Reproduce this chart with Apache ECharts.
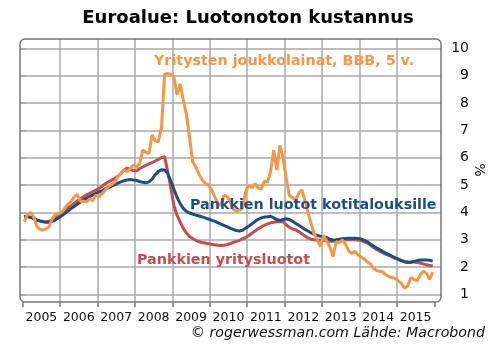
<!DOCTYPE html>
<html><head><meta charset="utf-8">
<script src="https://cdn.jsdelivr.net/npm/echarts@6/dist/echarts.min.js"></script>
<style>html,body{margin:0;padding:0;background:#fff}#c{width:496px;height:361px}</style>
</head><body><div id="c"></div>
<script>
// Year tick labels (categories of the label axis)
const yearLabels = ['2005','2006','2007','2008','2009','2010','2011','2012','2013','2014','2015'];

// Monthly categories Jan 2005 .. Dec 2015
const months = [];
for (const y of yearLabels) { for (let m = 1; m <= 12; m++) months.push(y + '-' + (m < 10 ? '0' + m : m)); }

// Pankkien luotot kotitalouksille (%)
const households = [
 3.85,3.85,3.82,3.78,3.73,3.69,3.66,3.64,3.64,3.67,3.73,3.80,
 3.88,3.96,4.05,4.14,4.22,4.30,4.38,4.45,4.52,4.58,4.64,4.70,
 4.75,4.80,4.86,4.91,4.96,5.01,5.07,5.12,5.16,5.19,5.20,5.19,
 5.17,5.13,5.10,5.08,5.12,5.22,5.38,5.50,5.56,5.55,5.42,5.15,
 4.85,4.55,4.32,4.15,4.04,3.98,3.94,3.90,3.87,3.84,3.80,3.76,
 3.72,3.68,3.63,3.58,3.53,3.48,3.43,3.38,3.34,3.32,3.35,3.42,
 3.50,3.58,3.67,3.75,3.80,3.83,3.84,3.86,3.80,3.74,3.71,3.74,
 3.77,3.74,3.68,3.60,3.53,3.46,3.38,3.32,3.25,3.20,3.16,3.13,
 3.12,3.08,3.02,2.99,3.00,3.02,3.04,3.05,3.06,3.06,3.06,3.05,
 3.03,2.99,2.93,2.85,2.77,2.70,2.64,2.57,2.51,2.46,2.40,2.34,
 2.29,2.24,2.19,2.17,2.18,2.21,2.24,2.26,2.26,2.26,2.25,2.22
];

// Pankkien yritysluotot (%)
const corporates = [
 3.86,3.85,3.82,3.78,3.73,3.69,3.67,3.66,3.68,3.73,3.82,3.92,
 4.00,4.08,4.16,4.24,4.33,4.42,4.50,4.57,4.64,4.70,4.76,4.82,
 4.88,4.96,5.05,5.12,5.18,5.24,5.32,5.42,5.55,5.62,5.58,5.52,
 5.52,5.60,5.66,5.72,5.78,5.82,5.88,5.94,6.00,6.04,5.50,4.90,
 4.25,3.90,3.65,3.42,3.25,3.12,3.05,2.98,2.93,2.90,2.88,2.86,
 2.84,2.82,2.80,2.79,2.80,2.82,2.86,2.90,2.94,2.98,3.03,3.08,
 3.16,3.24,3.32,3.40,3.47,3.53,3.58,3.62,3.64,3.66,3.67,3.66,
 3.55,3.46,3.40,3.36,3.30,3.22,3.14,3.07,3.02,3.00,2.99,2.98,
 2.99,2.97,2.95,2.95,2.96,2.98,3.00,3.00,3.00,3.01,3.00,2.99,
 2.97,2.93,2.88,2.80,2.72,2.65,2.58,2.52,2.47,2.42,2.37,2.32,
 2.28,2.24,2.21,2.19,2.19,2.19,2.17,2.15,2.12,2.09,2.06,2.04
];

// Yritysten joukkolainat, BBB, 5 v. (%)
const bonds = [
 3.66,3.90,4.00,3.85,3.50,3.38,3.36,3.40,3.48,3.78,3.92,3.96,
 4.00,4.15,4.30,4.39,4.57,4.66,4.41,4.41,4.39,4.50,4.43,4.63,
 4.58,4.69,4.82,4.95,5.02,5.10,5.30,5.43,5.55,5.49,5.61,5.73,
 5.65,5.79,6.28,6.20,6.15,6.83,6.62,6.58,7.10,9.05,9.08,9.05,
 8.95,8.30,8.70,8.10,7.60,6.75,5.85,5.67,5.42,5.20,5.07,5.00,
 4.85,4.60,4.35,4.25,4.62,4.60,4.40,4.12,4.05,4.08,4.15,4.75,
 5.00,4.90,5.05,4.90,4.85,5.15,5.10,5.50,6.28,5.55,6.45,6.00,
 5.25,4.62,4.55,4.44,4.70,4.82,4.45,4.00,3.60,3.20,3.00,2.76,
 3.17,2.95,2.74,2.38,2.93,2.90,2.99,2.85,2.60,2.50,2.58,2.45,
 2.38,2.30,2.20,2.12,1.95,1.88,1.85,1.82,1.72,1.65,1.62,1.59,
 1.50,1.40,1.22,1.32,1.62,1.55,1.50,1.72,1.85,1.78,1.55,1.82
];

const FONT = '"DejaVu Sans", Verdana, sans-serif';
const gridColor = '#a8a8a8';
const chart = echarts.init(document.getElementById('c'), null, {renderer: 'canvas'});
chart.setOption({
  animation: false,
  backgroundColor: '#fff',
  grid: [
    {left: 20, right: 55, top: 48.3, bottom: 66.5},
    {left: 22.7, right: 61.7, top: 39, bottom: 59}
  ],
  xAxis: [
    {gridIndex: 0, type: 'value', min: 0, max: 1, show: false},
    {gridIndex: 1, type: 'category', data: yearLabels, boundaryGap: true, position: 'bottom',
     axisLine: {show: false},
     axisTick: {show: true, interval: 0, length: 5, lineStyle: {color: '#777', width: 1.5}},
     axisLabel: {interval: 0, margin: 9, fontSize: 12.5, color: '#111', fontFamily: FONT},
     splitLine: {show: true, interval: 0, showMinLine: false, showMaxLine: false, lineStyle: {color: gridColor, width: 1.5}}},
    {gridIndex: 1, type: 'category', data: months, boundaryGap: true, show: false}
  ],
  yAxis: [
    {gridIndex: 0, type: 'value', position: 'right', min: 1, max: 10, interval: 1,
     axisLine: {show: false},
     axisTick: {show: true, length: 6, lineStyle: {color: gridColor, width: 1.5}},
     axisLabel: {margin: 28, align: 'right', fontSize: 14, color: '#111', fontFamily: FONT},
     splitLine: {show: true, lineStyle: {color: gridColor, width: 1.5}}},
    {gridIndex: 1, type: 'value', min: 0.726, max: 10.34, show: false}
  ],
  series: [
    {name: 'Pankkien yritysluotot', type: 'line', xAxisIndex: 2, yAxisIndex: 1, data: corporates,
     showSymbol: false, lineStyle: {color: '#C0504D', width: 3}, itemStyle: {color: '#C0504D'}, z: 3},
    {name: 'Pankkien luotot kotitalouksille', type: 'line', xAxisIndex: 2, yAxisIndex: 1, data: households,
     showSymbol: false, lineStyle: {color: '#1F4E85', width: 3}, itemStyle: {color: '#1F4E85'}, z: 4},
    {name: 'Yritysten joukkolainat, BBB, 5 v.', type: 'line', xAxisIndex: 2, yAxisIndex: 1, data: bonds,
     showSymbol: false, lineStyle: {color: '#F79646', width: 3}, itemStyle: {color: '#F79646'}, z: 5}
  ],
  graphic: [
    {type: 'rect', shape: {x: 20, y: 39, width: 421, height: 263, r: 5}, silent: true, z: 1,
     style: {fill: null, stroke: '#777', lineWidth: 1.5}},
    {type: 'text', x: 248, y: 18, z: 10, style: {text: 'Euroalue: Luotonoton kustannus', font: 'bold 18px ' + FONT, fill: '#000', textAlign: 'center', textVerticalAlign: 'middle'}},
    {type: 'text', x: 154, y: 61, z: 10, style: {text: 'Yritysten joukkolainat, BBB, 5 v.', font: 'bold 14.3px ' + FONT, fill: '#F79646', textAlign: 'left', textVerticalAlign: 'middle'}},
    {type: 'text', x: 190, y: 205, z: 10, style: {text: 'Pankkien luotot kotitalouksille', font: 'bold 14.3px ' + FONT, fill: '#1F4E85', textAlign: 'left', textVerticalAlign: 'middle'}},
    {type: 'text', x: 137, y: 260, z: 10, style: {text: 'Pankkien yritysluotot', font: 'bold 14.3px ' + FONT, fill: '#C0504D', textAlign: 'left', textVerticalAlign: 'middle'}},
    {type: 'text', x: 485, y: 333, z: 10, style: {text: '© rogerwessman.com Lähde: Macrobond', font: 'italic 14.2px ' + FONT, fill: '#111', textAlign: 'right', textVerticalAlign: 'middle'}},
    {type: 'text', x: 479, y: 170, rotation: -Math.PI / 2, z: 10, style: {text: '%', font: '14px ' + FONT, fill: '#111', textAlign: 'center', textVerticalAlign: 'middle'}}
  ]
});
</script></body></html>
